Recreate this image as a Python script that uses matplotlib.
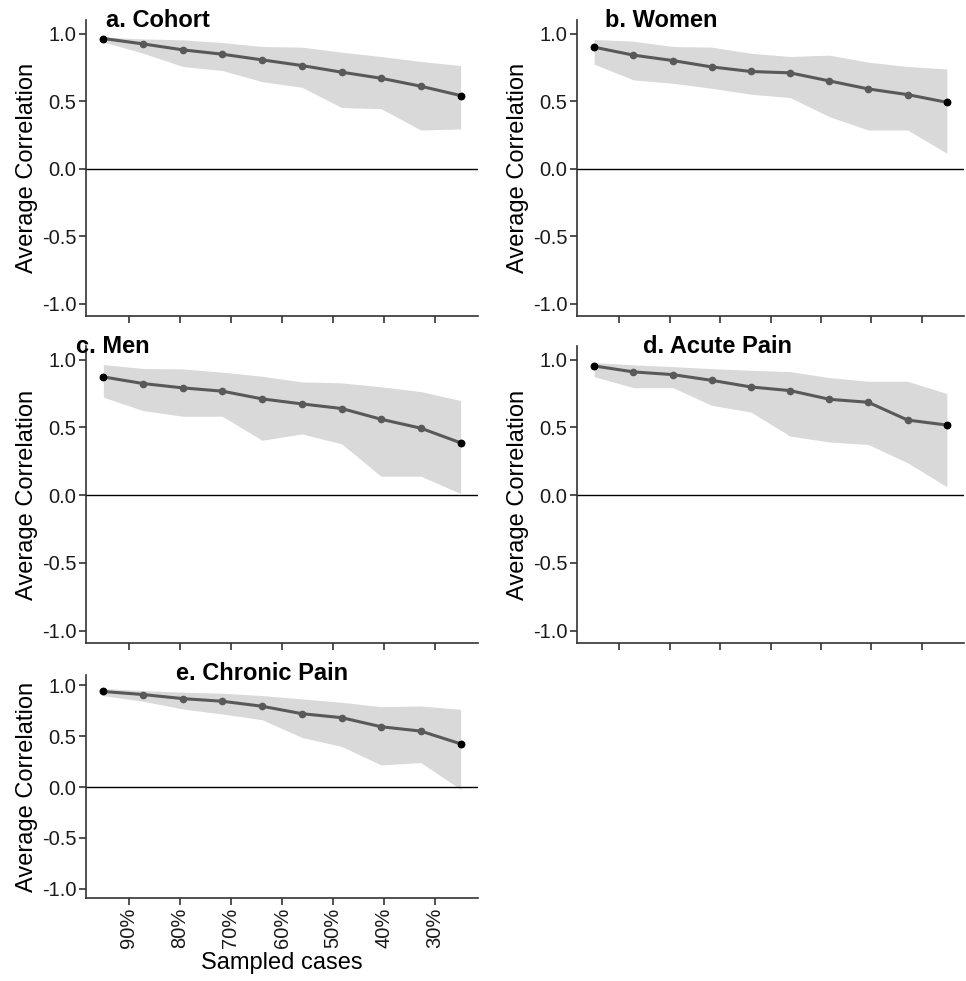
import matplotlib
matplotlib.use("Agg")
import matplotlib.pyplot as plt

plt.rcParams['font.family'] = ['Liberation Sans', 'DejaVu Sans']

# sampled share of cases (%), 10 steps
sampled = [95, 87.2, 79.4, 71.7, 63.9, 56.1, 48.3, 40.6, 32.8, 25]
tick_pos = [90, 80, 70, 60, 50, 40, 30]
tick_labels = ['90%', '80%', '70%', '60%', '50%', '40%', '30%']

titles = ['a. Cohort', 'b. Women', 'c. Men', 'd. Acute Pain', 'e. Chronic Pain']

cohort_mean = [0.963, 0.923, 0.879, 0.847, 0.805, 0.763, 0.714, 0.669, 0.610, 0.541]
cohort_hi = [0.973, 0.960, 0.953, 0.933, 0.904, 0.899, 0.862, 0.830, 0.793, 0.763]
cohort_lo = [0.938, 0.854, 0.756, 0.726, 0.644, 0.602, 0.452, 0.444, 0.286, 0.294]

women_mean = [0.899, 0.840, 0.800, 0.753, 0.719, 0.709, 0.649, 0.590, 0.548, 0.491]
women_hi = [0.956, 0.943, 0.904, 0.899, 0.854, 0.830, 0.840, 0.788, 0.756, 0.738]
women_lo = [0.773, 0.657, 0.632, 0.595, 0.551, 0.526, 0.385, 0.286, 0.286, 0.114]

men_mean = [0.872, 0.823, 0.791, 0.767, 0.710, 0.673, 0.639, 0.560, 0.494, 0.386]
men_hi = [0.963, 0.934, 0.931, 0.907, 0.877, 0.835, 0.828, 0.799, 0.764, 0.698]
men_lo = [0.722, 0.624, 0.582, 0.582, 0.405, 0.452, 0.378, 0.140, 0.140, 0.012]

acute_mean = [0.953, 0.909, 0.889, 0.847, 0.798, 0.771, 0.707, 0.685, 0.554, 0.517]
acute_hi = [0.978, 0.961, 0.948, 0.933, 0.921, 0.911, 0.867, 0.840, 0.840, 0.749]
acute_lo = [0.874, 0.793, 0.793, 0.663, 0.613, 0.436, 0.392, 0.374, 0.239, 0.062]

chronic_mean = [0.938, 0.908, 0.868, 0.842, 0.793, 0.720, 0.681, 0.592, 0.549, 0.424]
chronic_hi = [0.967, 0.947, 0.931, 0.921, 0.898, 0.865, 0.832, 0.789, 0.796, 0.763]
chronic_lo = [0.898, 0.842, 0.766, 0.717, 0.661, 0.487, 0.398, 0.217, 0.240, -0.023]

means = [cohort_mean, women_mean, men_mean, acute_mean, chronic_mean]
his = [cohort_hi, women_hi, men_hi, acute_hi, chronic_hi]
los = [cohort_lo, women_lo, men_lo, acute_lo, chronic_lo]

W, H = 966, 981
fig = plt.figure(figsize=(W / 100, H / 100), dpi=100)


def box(l, t, r, b):
    # pixel box -> figure fraction
    return [l / W, 1 - b / H, (r - l) / W, (b - t) / H]


boxes = [box(86, 20, 478, 316), box(577, 20, 964, 316),
         box(86, 346, 478, 643), box(577, 346, 964, 643),
         box(86, 675, 478, 898)]
# title left position (axes fraction)
title_x = [0.051, 0.072, -0.026, 0.17, 0.23]

spine_col = '#333333'
for i in range(5):
    ax = fig.add_axes(boxes[i])
    ax.fill_between(sampled, los[i], his[i], color='#d9d9d9', lw=0)
    ax.axhline(0, color='black', lw=1)
    ax.plot(sampled, means[i], color='#595959', lw=2.2, marker='o', ms=4.5,
            mfc='#595959', mec='#595959', zorder=3)
    ax.plot([sampled[0], sampled[-1]], [means[i][0], means[i][-1]], 'o',
            color='black', ms=4.5, zorder=4)
    ax.set_xlim(98.4, 21.6)
    ax.set_ylim(-1.09, 1.10)
    ax.set_yticks([-1.0, -0.5, 0.0, 0.5, 1.0])
    ax.set_yticklabels(['-1.0', '-0.5', '0.0', '0.5', '1.0'])
    ax.set_xticks(tick_pos)
    if i == 4:
        ax.set_xticklabels(tick_labels, rotation=90)
        ax.set_xlabel('Sampled cases', fontsize=17, labelpad=3)
    else:
        ax.set_xticklabels([])
    ax.set_ylabel('Average Correlation', fontsize=17, labelpad=3)
    for s in ['top', 'right']:
        ax.spines[s].set_visible(False)
    for s in ['left', 'bottom']:
        ax.spines[s].set_color(spine_col)
        ax.spines[s].set_linewidth(1.2)
    ax.tick_params(axis='both', labelsize=14.5, length=5, width=1.2,
                   color=spine_col, labelcolor='#1a1a1a', pad=2)
    ax.text(title_x[i], 0.978, titles[i], transform=ax.transAxes,
            fontsize=17, fontweight='bold', va='baseline', ha='left')

fig.savefig('out.png', dpi=100)
